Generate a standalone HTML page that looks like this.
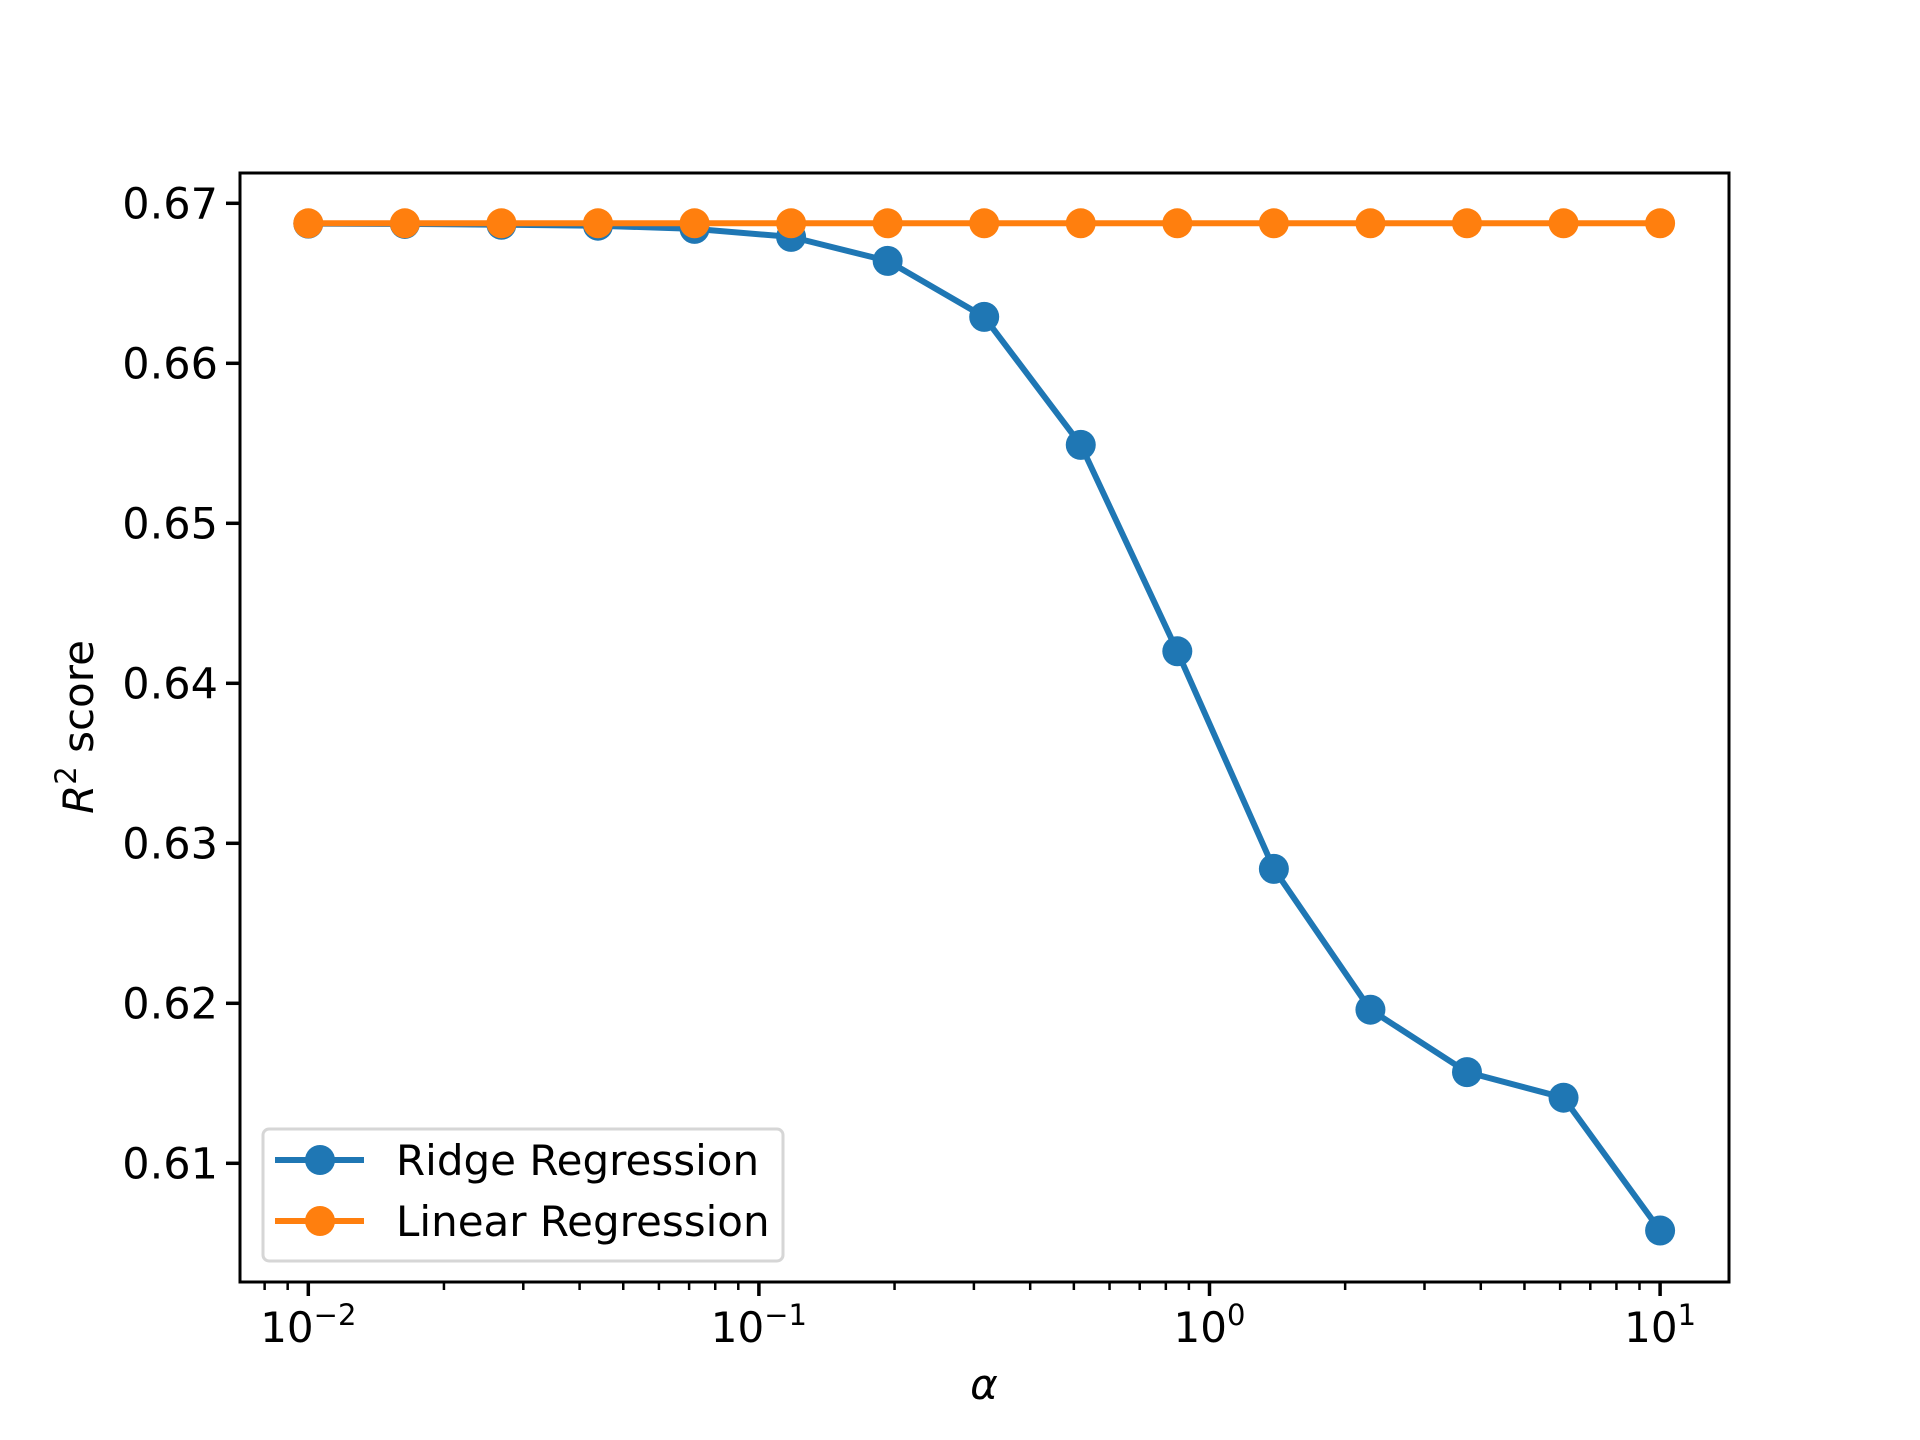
<!DOCTYPE html>
<html><head><meta charset="utf-8"><style>
html,body{margin:0;padding:0;background:#fff;width:1920px;height:1440px;overflow:hidden}
svg{display:block}
text{font-family:"DejaVu Sans","Liberation Sans",sans-serif;fill:#000}
</style></head><body>
<svg id="chart" width="1920" height="1440" viewBox="0 0 1920 1440" xmlns="http://www.w3.org/2000/svg">
<rect width="1920" height="1440" fill="#fff"/>
<g id="plot"></g>
</svg>
<script>
const alphaExpMin = -2;
const alphaExpMax = 1;
const pointCount = 15;
const ridgeScores = [0.66873,0.66871,0.66866,0.6686,0.6684,0.6679,0.6664,0.6629,0.6549,0.6420,0.6284,0.6196,0.6157,0.6141,0.6058];
const linearScores = [0.66875,0.66875,0.66875,0.66875,0.66875,0.66875,0.66875,0.66875,0.66875,0.66875,0.66875,0.66875,0.66875,0.66875,0.66875];
const yTicks = [0.61,0.62,0.63,0.64,0.65,0.66,0.67];
const yTickLabels = ["0.61","0.62","0.63","0.64","0.65","0.66","0.67"];
const xTickExps = [-2,-1,0,1];
const xTickLabels = ["\u22122","\u22121","0","1"];

const NS="http://www.w3.org/2000/svg";
const L=240,R=1729,T=173,B=1282;
const FS=42;
function xs(v){return 308.3+(Math.log10(v)+2)*450.6;}
function ys(v){return 203.3+(0.67-v)*16000;}
const g=document.getElementById('plot');
function mk(tag,attrs,parent){const e=document.createElementNS(NS,tag);for(const k in attrs)e.setAttribute(k,attrs[k]);(parent||g).appendChild(e);return e;}

const alphas=[];
for(let i=0;i<pointCount;i++)alphas.push(Math.pow(10,alphaExpMin+(alphaExpMax-alphaExpMin)*i/(pointCount-1)));

yTicks.forEach((v,i)=>{
  const y=ys(v);
  const t=mk('line',{x1:L-14,x2:L,y1:y,y2:y,stroke:'#000','stroke-width':3.5});
  
  
  const tx=mk('text',{x:L-22,y:y+15,'font-size':43,'text-anchor':'end'});
  tx.textContent=yTickLabels[i];
  
  
});
for(let e=-3;e<=1;e++){for(let m=2;m<=9;m++){const v=m*Math.pow(10,e);const x=xs(v);if(x<L||x>R)continue;
  const t=mk('line',{x1:x,x2:x,y1:B,y2:B+8,stroke:'#000','stroke-width':2.5});
  
  }}
xTickExps.forEach((e,i)=>{
  const x=xs(Math.pow(10,e));
  const t=mk('line',{x1:x,x2:x,y1:B,y2:B+14,stroke:'#000','stroke-width':3.5});
  
  
  const tx=mk('text',{x:x,y:1342,'font-size':FS,'text-anchor':'middle'});
  
  
  const a=document.createElementNS(NS,'tspan');a.textContent='10';tx.appendChild(a);
  const b=document.createElementNS(NS,'tspan');b.setAttribute('dy','-17');b.setAttribute('font-size','29');b.textContent=xTickLabels[i];tx.appendChild(b);
});

function series(vals,color,name){
  const pts=vals.map((v,i)=>xs(alphas[i]).toFixed(1)+','+ys(v).toFixed(1)).join(' ');
  const pl=mk('polyline',{points:pts,fill:'none',stroke:color,'stroke-width':6,'stroke-linejoin':'round'});
  
  
  vals.forEach((v,i)=>{
    const c=mk('circle',{cx:xs(alphas[i]),cy:ys(v),r:15,fill:color});
    
    
  });
}
series(ridgeScores,'#1f77b4','ridge-regression');
series(linearScores,'#ff7f0e','linear-regression');

const fr=mk('rect',{x:L,y:T,width:R-L,height:B-T,fill:'none',stroke:'#000','stroke-width':3});



const lg=mk('g',{});


mk('rect',{x:263,y:1129,width:520,height:132,rx:6,fill:'#fff','fill-opacity':0.8,stroke:'#d6d6d6','stroke-width':3},lg);
[['Ridge Regression','#1f77b4',1160],['Linear Regression','#ff7f0e',1221]].forEach(([lbl,c,y])=>{
  const e=mk('g',{},lg);
  
  
  mk('line',{x1:275,x2:364,y1:y,y2:y,stroke:c,'stroke-width':6},e);
  mk('circle',{cx:320,cy:y,r:15,fill:c},e);
  const t=mk('text',{x:396,y:y+15,'font-size':FS},e);t.textContent=lbl;
});

const xl=mk('text',{x:984,y:1399,'font-size':FS,'text-anchor':'middle','font-style':'italic'});
xl.textContent='\u03b1';


const yl=mk('text',{x:0,y:0,'font-size':FS,'text-anchor':'middle',transform:'translate(93,727) rotate(-90)'});


const r1=document.createElementNS(NS,'tspan');r1.setAttribute('font-style','italic');r1.textContent='R';yl.appendChild(r1);
const r2=document.createElementNS(NS,'tspan');r2.setAttribute('dy','-17');r2.setAttribute('font-size','29');r2.textContent='2';yl.appendChild(r2);
const r3=document.createElementNS(NS,'tspan');r3.setAttribute('dy','17');r3.textContent=' score';yl.appendChild(r3);
</script>
</body></html>
